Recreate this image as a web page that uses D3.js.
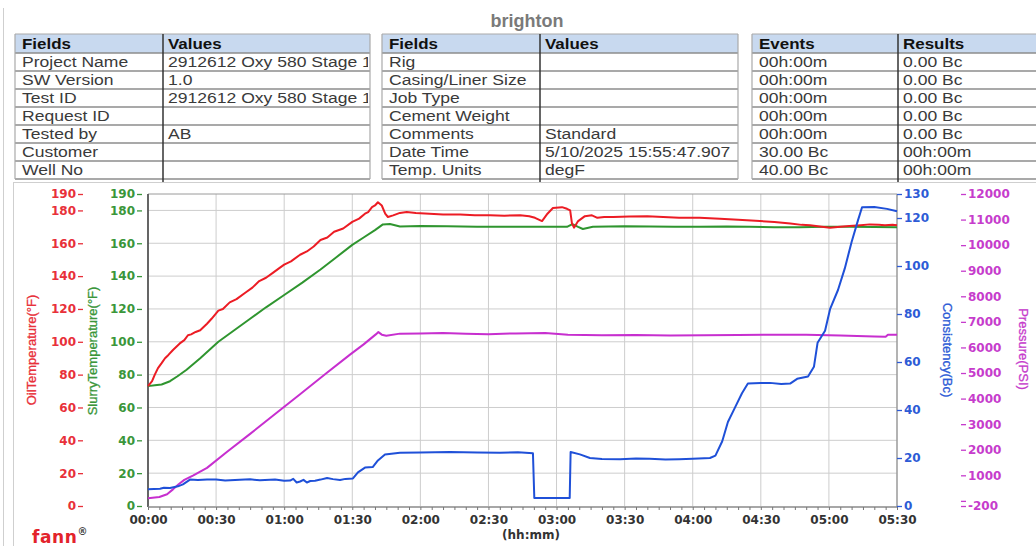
<!DOCTYPE html>
<html>
<head>
<meta charset="utf-8">
<script src="https://cdn.jsdelivr.net/npm/d3@7"></script>
<style>
  body { margin: 0; background: #fff; }
  svg { display: block; }
</style>
</head>
<body>
<svg id="chart" width="1036" height="546"></svg>
<script>
// ---- Header tables ----
const infoFields = ["Project Name", "SW Version", "Test ID", "Request ID", "Tested by", "Customer", "Well No"];
const infoValues = ["2912612 Oxy 580 Stage 1", "1.0", "2912612 Oxy 580 Stage 1", "", "AB", "", ""];
const jobFields = ["Rig", "Casing/Liner Size", "Job Type", "Cement Weight", "Comments", "Date Time", "Temp. Units"];
const jobValues = ["", "", "", "", "Standard", "5/10/2025 15:55:47.907", "degF"];
const eventNames = ["00h:00m", "00h:00m", "00h:00m", "00h:00m", "00h:00m", "30.00 Bc", "40.00 Bc"];
const eventResults = ["0.00 Bc", "0.00 Bc", "0.00 Bc", "0.00 Bc", "0.00 Bc", "00h:00m", "00h:00m"];

// ---- Axis ticks ----
const timeTicks = [0, 30, 60, 90, 120, 150, 180, 210, 240, 270, 300, 330];
const timeLabels = ["00:00", "00:30", "01:00", "01:30", "02:00", "02:30", "03:00", "03:30", "04:00", "04:30", "05:00", "05:30"];
const tempTicks = [0, 20, 40, 60, 80, 100, 120, 140, 160, 180, 190];
const bcTicks = [0, 20, 40, 60, 80, 100, 120, 130];
const psiTicks = [-200, 0, 1000, 2000, 3000, 4000, 5000, 6000, 7000, 8000, 9000, 10000, 11000, 12000];

// ---- Series: [minutes, value] ----
const oilTemp = [
  [0, 73], [1.8, 76], [3, 80], [4.4, 84], [6, 87], [7.5, 90], [9, 92], [11, 95], [12.5, 97], [14, 99],
  [16, 101], [17.6, 104], [19, 104.5], [21, 106], [23, 107], [24.5, 109], [26, 111], [28, 114], [31, 119],
  [33, 120], [36, 124], [39, 126], [43, 130], [46, 133], [49, 137], [52, 139], [55, 142], [58, 145],
  [60, 147], [63, 149], [67, 153], [70, 155], [73, 158], [76, 162], [79, 163.5], [82, 167], [86, 169],
  [90, 173], [93, 175], [95.6, 178], [97, 179], [98.7, 182], [100, 183], [101.3, 185], [103, 183],
  [104.5, 178], [105.7, 176], [108, 177], [111, 178.5], [114, 179], [118, 178.5], [124, 178], [130, 177.5],
  [137.5, 177.5], [144, 177], [150.7, 177], [157, 176.8], [164, 177], [168, 176.5], [170.5, 175.5],
  [173.6, 173.5], [176, 178], [178.4, 181.5], [182.4, 182], [184.6, 181], [186, 180], [186.8, 172],
  [187.7, 169.5], [189.5, 173.5], [192.5, 176.5], [195.6, 177], [198, 175.5], [201, 176], [205, 176],
  [212, 176.3], [220, 176.5], [227, 176], [234, 175.5], [243, 175.5], [252, 175], [260, 174.3],
  [269.6, 173.5], [276, 173], [283, 172], [288, 171.2], [291.7, 171], [296, 170.2], [300.5, 169.5],
  [305, 170], [309, 170.5], [314, 171], [318, 171.5], [322, 171.2], [324.7, 171], [328, 171.3], [330, 171]
];

const slurryTemp = [
  [0, 73], [3, 73.5], [6, 74], [9.7, 76], [13, 79], [17, 83], [20, 86.5], [23, 90], [27, 95],
  [31, 100], [38, 107], [45, 114], [52, 121], [60, 128.5], [68, 136], [76, 144], [83, 151.5],
  [90, 159], [95, 163.5], [100, 168], [103.5, 171.5], [106.6, 171.7], [111, 170.2], [120, 170.5],
  [131.7, 170.3], [145, 170], [155, 170], [170, 170.1], [184.6, 170], [187, 171.7], [189.5, 170],
  [191.6, 168.7], [196, 170], [210, 170.3], [221, 170.2], [232, 170], [243, 170], [255, 170.2],
  [265, 170], [276, 169.8], [287, 169.8], [298, 170], [309, 170], [320, 169.9], [330, 169.8]
];

const consistency = [
  [0, 7], [5.3, 7.2], [7, 7.6], [9.7, 7.5], [13.2, 8.2], [15.4, 9], [18.5, 11], [22, 10.8], [26, 11],
  [30, 11], [34, 10.6], [40.5, 10.9], [45, 11.1], [49.3, 10.7], [56, 11], [60, 10.5], [62.6, 10.6],
  [64, 11.3], [65.5, 9.8], [67, 10.2], [68.5, 10.9], [70, 9.8], [71.5, 10.4], [73.6, 10.5],
  [76, 11], [78.9, 11.7], [81.5, 11.2], [84.6, 10.8], [87, 11.3], [90.3, 11.5], [92.5, 14], [95.6, 16],
  [99, 16.2], [101.3, 19], [104.4, 21.5], [111, 22.2], [120, 22.3], [133, 22.5], [145, 22.3],
  [155, 22.2], [163, 22.4], [169.6, 22], [170.2, 3.3], [185.8, 3.3], [186.2, 22.5], [190.3, 21.5],
  [194.7, 20], [200, 19.6], [208, 19.5], [215, 19.8], [221, 19.7], [228, 19.4], [234, 19.5],
  [240, 19.7], [247.6, 20], [250, 21], [253, 27], [255.5, 35], [258.6, 41], [261.7, 47], [264.3, 51],
  [270, 51.2], [274, 51.3], [279, 50.8], [282.9, 51], [286, 53], [290.8, 54], [293.4, 58], [295, 68],
  [298.3, 73], [300.5, 82], [304, 90], [307, 99], [310, 110], [312.8, 119], [314.6, 124.5],
  [320, 124.6], [325.6, 123.8], [330, 122.8]
];

const pressure = [
  [0, 100], [5, 150], [8.4, 260], [11, 450], [13.5, 650], [16, 820], [20, 1000], [26, 1290],
  [35, 1930], [45, 2620], [56, 3400], [67, 4170], [78, 4950], [89, 5720], [95, 6120], [100.5, 6520],
  [101.5, 6600], [103, 6500], [105, 6460], [111, 6540], [120, 6550], [130, 6560], [140, 6540],
  [150, 6520], [162, 6550], [175, 6560], [185, 6500], [200, 6480], [215, 6490], [230, 6470],
  [245, 6480], [260, 6490], [275, 6500], [290, 6500], [305, 6470], [320, 6430], [325, 6420],
  [326, 6500], [330, 6500]
];

// ---- Colours ----
const RED = "#ec1c24", GREEN = "#2f952f", BLUE = "#1f50d8", MAGENTA = "#c72fcf";
const redText = "#e8303a", greenText = "#3a963a", blueText = "#2d5bd6", magText = "#c63ccc";

const svg = d3.select("#chart");

// ---- Page frame ----
svg.append("line").attr("x1", 3.5).attr("x2", 3.5).attr("y1", 8).attr("y2", 546)
  .attr("stroke", "#cfcfcf").attr("stroke-width", 1);
svg.append("rect").attr("x", 13.5).attr("y", 182.5).attr("width", 1030).attr("height", 380)
  .attr("fill", "none").attr("stroke", "#cfcfcf").attr("stroke-width", 1);

// ---- Title ----
svg.append("text").attr("x", 527).attr("y", 27).attr("text-anchor", "middle")
  .attr("font-family", "'Liberation Sans', Arial, sans-serif").attr("font-weight", "bold")
  .attr("font-size", 18).attr("fill", "#7a7a7a").text("brighton");

// ---- Tables ----
const tableTop = 34, headH = 19, rowH = 18;
const bodyStretch = 1.17, headStretch = 1.13;
function cellText(g, x, y, txt, bold) {
  g.append("text")
    .attr("transform", `translate(${x},${y}) scale(${bold ? headStretch : bodyStretch},1)`)
    .attr("font-weight", bold ? "bold" : "normal")
    .attr("fill", bold ? "#111" : "#3a3a3a")
    .text(txt);
}
function drawTable(id, x0, xDiv, x1, headers, col1, col2) {
  const g = svg.append("g");
  const n = col1.length;
  const bottom = tableTop + headH + n * rowH;
  g.append("clipPath").attr("id", id + "a").append("rect")
    .attr("x", x0).attr("y", tableTop).attr("width", xDiv - x0 - 1).attr("height", bottom - tableTop);
  g.append("clipPath").attr("id", id + "b").append("rect")
    .attr("x", xDiv).attr("y", tableTop).attr("width", x1 - xDiv - 2).attr("height", bottom - tableTop);
  g.append("rect").attr("x", x0).attr("y", tableTop).attr("width", x1 - x0).attr("height", headH)
    .attr("fill", "#c8d9ef");
  for (let i = 0; i <= n; i++) {
    const y = tableTop + headH + i * rowH;
    g.append("line").attr("x1", x0).attr("x2", x1).attr("y1", y).attr("y2", y)
      .attr("stroke", "#8c8c8c").attr("stroke-width", 1.6);
  }
  g.append("line").attr("x1", x0).attr("x2", x1).attr("y1", tableTop).attr("y2", tableTop)
    .attr("stroke", "#a9a9a9").attr("stroke-width", 1.2);
  g.append("line").attr("x1", x0).attr("x2", x0).attr("y1", tableTop).attr("y2", bottom)
    .attr("stroke", "#a9a9a9").attr("stroke-width", 1.2);
  g.append("line").attr("x1", x1).attr("x2", x1).attr("y1", tableTop).attr("y2", bottom)
    .attr("stroke", "#a9a9a9").attr("stroke-width", 1.2);
  g.append("line").attr("x1", xDiv).attr("x2", xDiv).attr("y1", tableTop).attr("y2", bottom + 3)
    .attr("stroke", "#333").attr("stroke-width", 1.5);
  const left = g.append("g").attr("clip-path", `url(#${id}a)`)
    .attr("font-family", "'Liberation Sans', Arial, sans-serif").attr("font-size", 15);
  const right = g.append("g").attr("clip-path", `url(#${id}b)`)
    .attr("font-family", "'Liberation Sans', Arial, sans-serif").attr("font-size", 15);
  cellText(left, x0 + 7, tableTop + 14.5, headers[0], true);
  cellText(right, xDiv + 5, tableTop + 14.5, headers[1], true);
  col1.forEach((t, i) => cellText(left, x0 + 7, tableTop + headH + i * rowH + 14, t, false));
  col2.forEach((t, i) => cellText(right, xDiv + 5, tableTop + headH + i * rowH + 14, t, false));
}
drawTable("clipA", 15, 163, 370, ["Fields", "Values"], infoFields, infoValues);
drawTable("clipB", 382, 540, 738, ["Fields", "Values"], jobFields, jobValues);
drawTable("clipC", 752, 898, 1040, ["Events", "Results"], eventNames, eventResults);

// ---- Chart ----
const L = 148, R = 897, T = 194, B = 506;
const x = d3.scaleLinear().domain([0, 330]).range([L, R]);
const yTemp = d3.scaleLinear().domain([0, 190]).range([B, T]);
const yBc = d3.scaleLinear().domain([0, 130]).range([B, T]);
const yPsi = d3.scaleLinear().domain([-200, 12000]).range([B, T]);

// grid
const grid = svg.append("g").attr("stroke", "#cdcdcd").attr("stroke-width", 1);
timeTicks.slice(1, -1).forEach(t => {
  grid.append("line").attr("x1", x(t)).attr("x2", x(t)).attr("y1", T).attr("y2", B);
});
tempTicks.filter(v => v > 0 && v < 190).forEach(v => {
  grid.append("line").attr("x1", L).attr("x2", R).attr("y1", yTemp(v)).attr("y2", yTemp(v));
});

// plot frame
svg.append("line").attr("x1", L).attr("x2", R).attr("y1", T).attr("y2", T).attr("stroke", "#9a9a9a");
svg.append("line").attr("x1", R).attr("x2", R).attr("y1", T).attr("y2", B + 1).attr("stroke", "#9a9a9a").attr("stroke-width", 1.5);
svg.append("line").attr("x1", L).attr("x2", L).attr("y1", T).attr("y2", B + 1).attr("stroke", "#555").attr("stroke-width", 1.8);
svg.append("line").attr("x1", L).attr("x2", R).attr("y1", B + 1).attr("y2", B + 1).attr("stroke", "#8a8a8a").attr("stroke-width", 1.5);

const tickFont = "'DejaVu Sans', Verdana, sans-serif";

// x axis
const xAxis = d3.axisBottom(x).tickValues(d3.range(0, 331, 5)).tickSize(3).tickPadding(5)
  .tickFormat(d => { const i = timeTicks.indexOf(d); return i >= 0 ? timeLabels[i] : ""; });
const gx = svg.append("g").attr("transform", `translate(0,${B + 1})`).call(xAxis);
gx.select(".domain").remove();
gx.selectAll(".tick line").attr("stroke", "#777");
gx.selectAll("text").attr("font-family", tickFont).attr("font-weight", "bold").attr("font-size", 12)
  .attr("fill", "#333");
svg.append("text").attr("x", 531).attr("y", 539).attr("text-anchor", "middle")
  .attr("font-family", tickFont).attr("font-weight", "bold").attr("font-size", 12).attr("fill", "#333")
  .text("(hh:mm)");

function styleAxis(g, color) {
  g.select(".domain").remove();
  g.selectAll(".tick line").attr("stroke", color).attr("stroke-width", 1.3);
  g.selectAll("text").attr("font-family", tickFont).attr("font-weight", "bold").attr("font-size", 12)
    .attr("fill", color);
}

// left temperature axes
const gOil = svg.append("g").attr("transform", "translate(83,0)")
  .call(d3.axisLeft(yTemp).tickValues(tempTicks).tickSize(5).tickPadding(2));
styleAxis(gOil, redText);
const gSlurry = svg.append("g").attr("transform", "translate(142,0)")
  .call(d3.axisLeft(yTemp).tickValues(tempTicks).tickSize(5).tickPadding(2));
styleAxis(gSlurry, greenText);

// right axes
const gBc = svg.append("g").attr("transform", `translate(${R},0)`)
  .call(d3.axisRight(yBc).tickValues(bcTicks).tickSize(5).tickPadding(2));
styleAxis(gBc, blueText);
const gPsi = svg.append("g").attr("transform", "translate(961,0)")
  .call(d3.axisRight(yPsi).tickValues(psiTicks).tickSize(5).tickPadding(2)
    .tickFormat(d => d === 0 ? "" : String(d)));
styleAxis(gPsi, magText);

// axis titles
const titleFont = "'Liberation Sans', Arial, sans-serif";
function vTitle(cx, cy, rot, color, txt) {
  svg.append("text").attr("transform", `translate(${cx},${cy}) rotate(${rot})`)
    .attr("text-anchor", "middle").attr("dy", "0.35em")
    .attr("font-family", titleFont).attr("font-size", 13).attr("fill", color)
    .attr("stroke", color).attr("stroke-width", 0.3).text(txt);
}
vTitle(31, 350, -90, redText, "OilTemperature(°F)");
vTitle(92, 351, -90, greenText, "SlurryTemperature(°F)");
vTitle(948, 350, 90, blueText, "Consistency(Bc)");
vTitle(1024, 349, 90, magText, "Pressure(PSI)");

// series lines
const plot = svg.append("g");
function drawLine(data, yScale, color) {
  plot.append("path").datum(data)
    .attr("fill", "none").attr("stroke", color).attr("stroke-width", 2)
    .attr("stroke-linejoin", "round")
    .attr("d", d3.line().x(d => x(d[0])).y(d => yScale(d[1])));
}
drawLine(pressure, yPsi, MAGENTA);
drawLine(slurryTemp, yTemp, GREEN);
drawLine(oilTemp, yTemp, RED);
drawLine(consistency, yBc, BLUE);

// brand mark
const brand = svg.append("text").attr("x", 32).attr("y", 543)
  .attr("font-family", tickFont).attr("font-weight", "bold");
brand.append("tspan").attr("font-size", 17).attr("fill", "#e3232b").attr("letter-spacing", 0.6).text("fann");
brand.append("tspan").attr("font-size", 10).attr("dy", -8).attr("fill", "#444").text("®");
</script>
</body>
</html>
